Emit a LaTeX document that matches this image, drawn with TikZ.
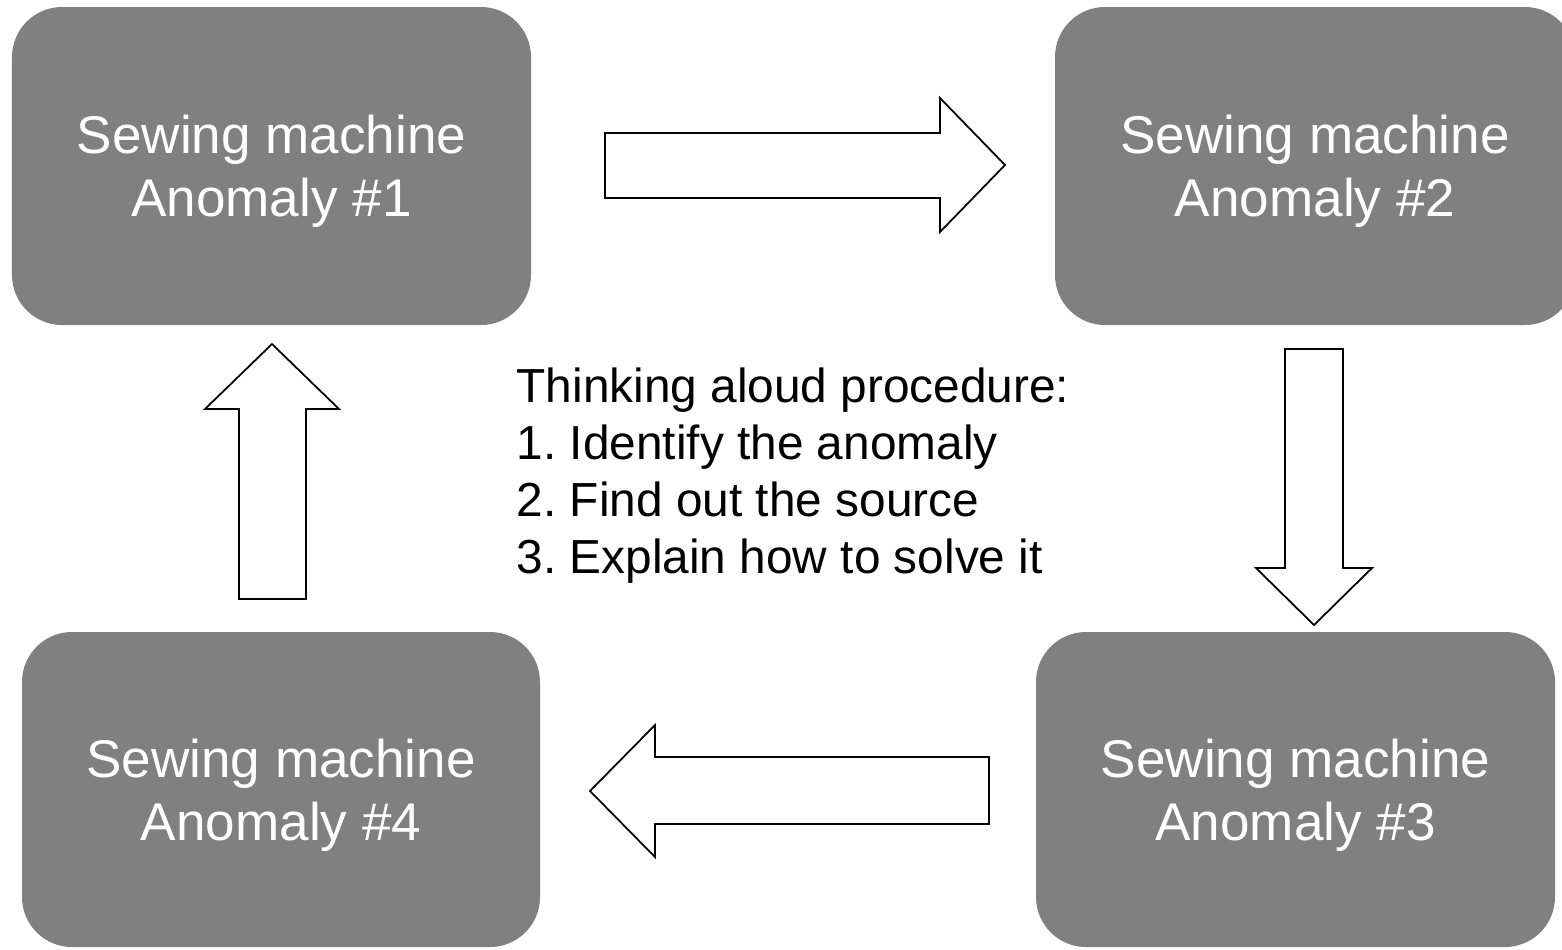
\documentclass[tikz,border=0pt]{standalone}
\usepackage{fontspec}
\setmainfont{Liberation Sans}
\usetikzlibrary{positioning}

\definecolor{boxgray}{HTML}{808080}

\begin{document}
\frenchspacing
\begin{tikzpicture}[y=-1cm,
    arrowbox/.style={draw=black,fill=white,line width=0.5pt,line join=miter}]
          \useasboundingbox (0,0) rectangle (15.62,9.49);

          \begin{scope}[every node/.style={fill=boxgray,rounded corners=0.5cm,text=white,align=center,
              minimum height=3.18cm,inner sep=0pt,text depth=0pt,font=\fontsize{15.1pt}{17.9pt}\selectfont}]
            \node (anom1) [minimum width=5.19cm] at (2.715,1.66) {Sewing machine\\Anomaly \#1};
            \node (anom2) [minimum width=5.20cm] at (13.15,1.66) {Sewing machine\\Anomaly \#2};
            \node (anom3) [minimum width=5.19cm,minimum height=3.15cm] at (12.955,7.895) {Sewing machine\\Anomaly \#3};
            \node (anom4) [minimum width=5.18cm,minimum height=3.15cm] at (2.81,7.895) {Sewing machine\\Anomaly \#4};
          \end{scope}

          \node (steps) [anchor=west,align=left,inner sep=0pt,font=\fontsize{13.6pt}{16.2pt}\selectfont]
            at (5.16,4.76) {Thinking aloud procedure:\\1. Identify the anomaly\\2. Find out the source\\3. Explain how to solve it};

          % block arrows round the cycle
          \draw[arrowbox] (6.05,1.33) -- (9.40,1.33) -- (9.40,0.98) -- (10.05,1.65) -- (9.40,2.32) -- (9.40,1.98) -- (6.05,1.98) -- cycle;
          \draw[arrowbox] (12.85,3.49) -- (13.43,3.49) -- (13.43,5.68) -- (13.72,5.68) -- (13.14,6.25) -- (12.56,5.68) -- (12.85,5.68) -- cycle;
          \draw[arrowbox] (9.89,7.57) -- (6.55,7.57) -- (6.55,7.25) -- (5.90,7.91) -- (6.55,8.57) -- (6.55,8.24) -- (9.89,8.24) -- cycle;
          \draw[arrowbox] (2.39,5.99) -- (2.39,4.09) -- (2.05,4.09) -- (2.72,3.44) -- (3.39,4.09) -- (3.06,4.09) -- (3.06,5.99) -- cycle;
        \end{tikzpicture}
\end{document}
